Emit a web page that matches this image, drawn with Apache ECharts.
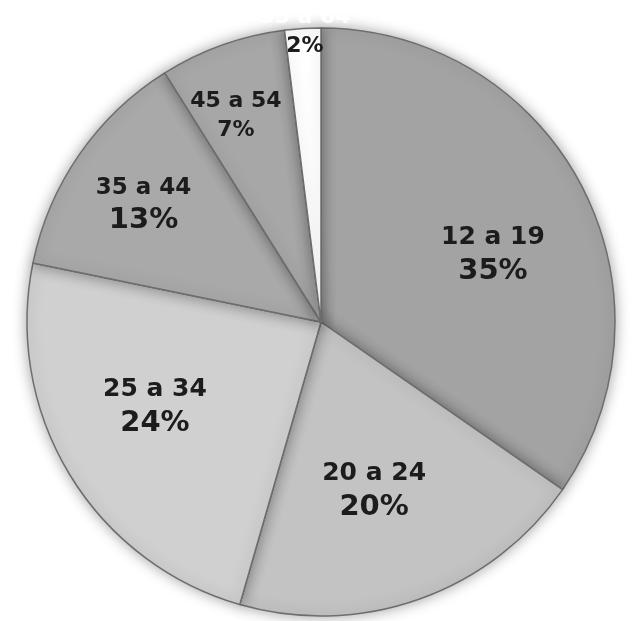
<!DOCTYPE html>
<html>
<head>
<meta charset="utf-8">
<script src="https://cdn.jsdelivr.net/npm/echarts@6/dist/echarts.min.js"></script>
<style>
html,body{margin:0;padding:0;background:#fff;}
#chart{width:644px;height:621px;}
</style>
</head>
<body>
<div id="chart"></div>
<script>
const categories = ['12 a 19', '20 a 24', '25 a 34', '35 a 44', '45 a 54', '55 a 64'];
const values = [35, 20, 24, 13, 7, 2];
const colors = ['#a3a3a3', '#c3c3c3', '#d0d0d0', '#a9a9a9', '#a7a7a7', '#ffffff'];

const labelOffsets = [[0, 23], [-12, -14], [0, -16], [-18, -6], [-20, -24], [-4, -97]];
const nameSizes = [25, 25, 25, 23, 22, 22];
const pctSizes = [29, 29, 29, 29, 22, 22];
const nameColors = ['#1c1c1c', '#1c1c1c', '#1c1c1c', '#1c1c1c', '#1c1c1c', '#ffffff'];

const R = 294;
const center = [321, 322];

const pieData = categories.map((c, i) => ({
  name: c, value: values[i],
  itemStyle: { color: colors[i] }
}));

const labelData = categories.map((c, i) => ({
  name: c, value: values[i],
  label: {
    offset: labelOffsets[i],
    rich: {
      n: { fontSize: nameSizes[i], fontWeight: 'bold', color: nameColors[i], fontFamily: 'DejaVu Sans', lineHeight: nameSizes[i] + 8 },
      p: { fontSize: pctSizes[i], fontWeight: 'bold', color: '#1c1c1c', fontFamily: 'DejaVu Sans', lineHeight: pctSizes[i] + 6 }
    }
  }
}));

const chart = echarts.init(document.getElementById('chart'), null, { renderer: 'canvas' });
chart.setOption({
  backgroundColor: '#ffffff',
  animation: false,
  series: [
    {
      type: 'pie',
      center: center,
      radius: [0, R],
      startAngle: 90,
      clockwise: true,
      silent: true,
      label: { show: false },
      labelLine: { show: false },
      itemStyle: {
        borderColor: '#6e6e6e',
        borderWidth: 1.5,
        shadowBlur: 14,
        shadowColor: 'rgba(0,0,0,0.35)'
      },
      data: pieData
    },
    {
      type: 'pie',
      center: center,
      radius: [R * 0.3, R],
      startAngle: 90,
      clockwise: true,
      silent: true,
      itemStyle: { color: 'rgba(0,0,0,0)' },
      labelLine: { show: false },
      label: {
        show: true,
        position: 'inside',
        formatter: '{n|{b}}\n{p|{c}%}'
      },
      data: labelData
    }
  ]
});
</script>
</body>
</html>
